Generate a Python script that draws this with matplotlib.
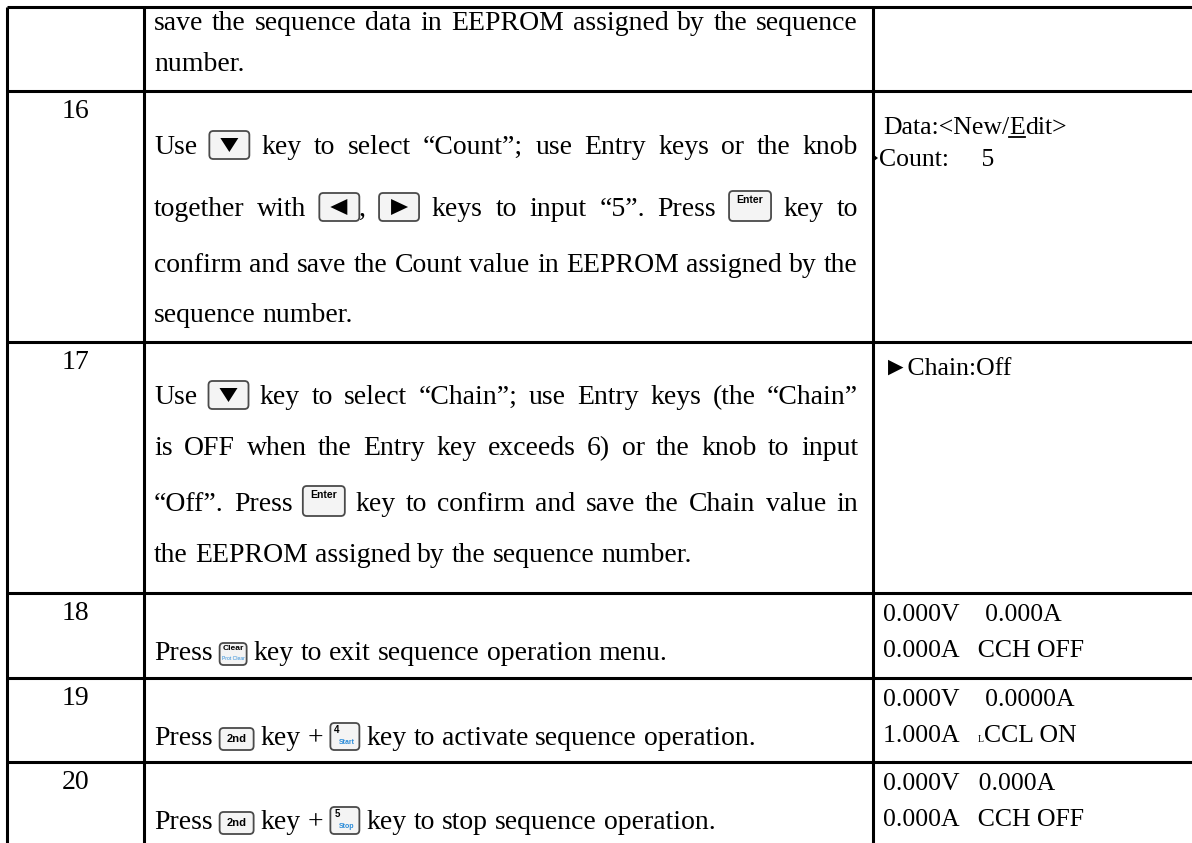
import matplotlib
matplotlib.use("Agg")
import matplotlib.pyplot as plt
from matplotlib.patches import FancyBboxPatch, Polygon

# ---------------- data ----------------
row_numbers = ["", "16", "17", "18", "19", "20"]

step_text = [
    [("save the sequence data in EEPROM assigned by the sequence", True),
     ("number.", False)],
    [(["Use", "@down", "key to select “Count”; use Entry keys or the knob"], True),
     (["together with", "@left", ",", "@right", "keys to input “5”. Press", "@enter", "key to"], True),
     ("confirm and save the Count value in EEPROM assigned by the", True),
     ("sequence number.", False)],
    [(["Use", "@down", "key to select “Chain”; use Entry keys (the “Chain”"], True),
     ("is OFF when the Entry key exceeds 6) or the knob to input", True),
     (["“Off”. Press", "@enter", "key to confirm and save the Chain value in"], True),
     ("the EEPROM assigned by the sequence number.", False)],
    [(["Press", "@clear", "key to exit sequence operation menu."], False)],
    [(["Press", "@2nd", "key +", "@start", "key to activate sequence operation."], False)],
    [(["Press", "@2nd", "key +", "@stop", "key to stop sequence operation."], False)],
]

display_text = [
    [],
    ["Data:<New/Edit>", "Count:     5"],
    ["►Chain:Off"],
    ["0.000V    0.000A", "0.000A   CCH OFF"],
    ["0.000V    0.0000A", "1.000A   ʟCCL ON"],
    ["0.000V   0.000A", "0.000A   CCH OFF"],
]

# ---------------- layout ----------------
W, H = 1192, 843
FONT = ["Liberation Serif", "DejaVu Serif"]
FS = 20
FS_DISP = 18.5
row_tops = [7, 91, 342, 593, 678, 762]
table_bottom = 850
col_x = [7, 144, 873]
num_baseline_off = 27
step_baselines = [[30, 71], [154, 216, 272, 322], [404, 455, 511, 562], [660], [745], [829]]
disp_baselines = [[], [134, 166], [376], [621, 657], [706, 742], [790, 826]]
text_left = col_x[1] + 10
text_right = col_x[2] - 15

icon_size = {
    "down": (40, 28), "left": (40, 28), "right": (40, 28), "enter": (42, 30),
    "clear": (27, 22), "2nd": (34, 22), "start": (29, 27), "stop": (29, 27),
}

fig = plt.figure(figsize=(W / 100, H / 100), dpi=100)
ax = fig.add_axes([0, 0, 1, 1])
ax.set_xlim(0, W)
ax.set_ylim(H, 0)
ax.axis("off")
renderer = fig.canvas.get_renderer()


def text_width(s, size=FS):
    t = ax.text(0, 0, "x" + s + "x", fontsize=size, family=FONT)
    w1 = t.get_window_extent(renderer).width
    t.remove()
    t = ax.text(0, 0, "xx", fontsize=size, family=FONT)
    w0 = t.get_window_extent(renderer).width
    t.remove()
    return w1 - w0


SPACE = text_width(" ")


def draw_icon(name, x, baseline):
    w, h = icon_size[name]
    top = baseline - h + 5
    box = FancyBboxPatch((x, top), w, h, boxstyle="round,pad=0,rounding_size=4",
                         fc="#f4f4f4", ec="#4a4a4a", lw=1.3, zorder=3)
    ax.add_patch(box)
    cx, cy = x + w / 2, top + h / 2
    if name == "down":
        ax.add_patch(Polygon([(cx - 9, cy - 7), (cx + 9, cy - 7), (cx, cy + 7)],
                             closed=True, fc="black", ec="none", zorder=4))
    elif name == "left":
        ax.add_patch(Polygon([(cx + 8, cy - 8), (cx + 8, cy + 8), (cx - 9, cy)],
                             closed=True, fc="black", ec="none", zorder=4))
    elif name == "right":
        ax.add_patch(Polygon([(cx - 8, cy - 8), (cx - 8, cy + 8), (cx + 9, cy)],
                             closed=True, fc="black", ec="none", zorder=4))
    elif name == "enter":
        ax.text(cx, top + 9, "Enter", fontsize=7.5, family="Liberation Sans",
                weight="bold", ha="center", va="center", zorder=4)
    elif name == "2nd":
        ax.text(cx, cy, "2nd", fontsize=8, family="Liberation Sans",
                weight="bold", ha="center", va="center", zorder=4)
    elif name in ("start", "stop"):
        ax.text(x + 4, top + 7, "4" if name == "start" else "5", fontsize=7,
                family="Liberation Sans", weight="bold", ha="left", va="center", zorder=4)
        ax.text(cx + 2, top + h - 7, "Start" if name == "start" else "Stop", fontsize=5,
                family="Liberation Sans", weight="bold", color="#2a8bd8",
                ha="center", va="center", zorder=4)
    elif name == "clear":
        ax.text(cx, top + 6, "Clear", fontsize=6, family="Liberation Sans",
                weight="bold", ha="center", va="center", zorder=4)
        ax.text(cx, top + 15, "Prot Clear", fontsize=3.6, family="Liberation Sans",
                color="#2a8bd8", ha="center", va="center", zorder=4)
    return w


def layout_line(tokens, justified, baseline):
    if isinstance(tokens, str):
        tokens = [tokens]
    items = []
    for tok in tokens:
        if tok.startswith("@"):
            items.append(("icon", tok[1:], icon_size[tok[1:]][0]))
        elif tok == ",":
            items.append(("glue", ",", text_width(",")))
        else:
            for wd in tok.split(" "):
                items.append(("word", wd, text_width(wd)))
    gaps = sum(1 for it in items[1:] if it[0] != "glue")
    total = sum(it[2] for it in items)
    gap = SPACE
    if justified and gaps:
        gap = max(SPACE * 0.8, (text_right - text_left - total) / gaps)
    x = text_left
    for i, (kind, val, w) in enumerate(items):
        if i > 0 and kind != "glue":
            x += gap
        if kind == "icon":
            draw_icon(val, x, baseline)
        else:
            ax.text(x, baseline, val, fontsize=FS, family=FONT, ha="left",
                    va="baseline", zorder=4)
        x += w


# table rules
LW = 2.2
for y in row_tops:
    ax.plot([col_x[0], W], [y, y], color="black", lw=LW, solid_capstyle="butt")
for x in col_x:
    ax.plot([x, x], [row_tops[0], table_bottom], color="black", lw=LW, solid_capstyle="butt")

# row numbers
for r, num in enumerate(row_numbers):
    if num:
        ax.text((col_x[0] + col_x[1]) / 2, row_tops[r] + num_baseline_off, num,
                fontsize=FS, family=FONT, ha="center", va="baseline")

# step descriptions
for r, lines in enumerate(step_text):
    for (tokens, just), yb in zip(lines, step_baselines[r]):
        layout_line(tokens, just, yb)

# display column
dx = col_x[2] + 10
for r, lines in enumerate(display_text):
    for s, yb in zip(lines, disp_baselines[r]):
        if s.startswith("Data:"):
            pre, ch, post = "Data:<New/", "E", "dit>"
            ax.text(dx, yb, pre, fontsize=FS_DISP, family=FONT, va="baseline")
            x1 = dx + text_width(pre, FS_DISP)
            ax.text(x1, yb, ch, fontsize=FS_DISP, family=FONT, va="baseline")
            wE = text_width(ch, FS_DISP)
            ax.plot([x1, x1 + wE], [yb + 3, yb + 3], color="black", lw=1.3)
            ax.text(x1 + wE, yb, post, fontsize=FS_DISP, family=FONT, va="baseline")
        elif s.startswith("Count"):
            ax.add_patch(Polygon([(col_x[2] + 1, yb - 11), (col_x[2] + 1, yb - 5),
                                  (col_x[2] + 5, yb - 8)], closed=True, fc="black", ec="none"))
            ax.text(col_x[2] + 6, yb, s, fontsize=FS_DISP, family=FONT, va="baseline")
        elif "ʟ" in s:
            pre, post = s.split("ʟ")
            ax.text(dx, yb, pre, fontsize=FS_DISP, family=FONT, va="baseline")
            x1 = dx + text_width(pre, FS_DISP)
            ax.text(x1, yb, "L", fontsize=7, family=FONT, va="baseline")
            ax.text(x1 + text_width("L", 7), yb, post, fontsize=FS_DISP, family=FONT, va="baseline")
        else:
            ax.text(dx, yb, s, fontsize=FS_DISP, family=FONT, va="baseline")

fig.savefig("out.png", dpi=100)
